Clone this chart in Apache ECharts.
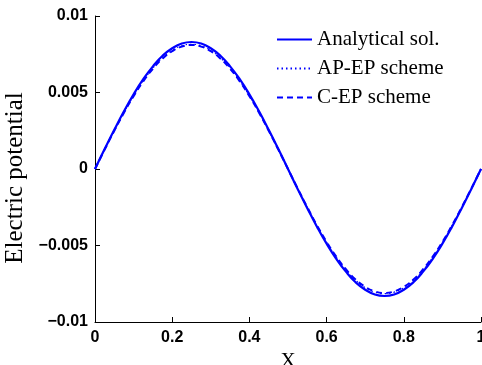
<!DOCTYPE html>
<html><head><meta charset="utf-8">
<script src="https://cdn.jsdelivr.net/npm/echarts@6/dist/echarts.min.js"></script>
<style>html,body{margin:0;padding:0;background:#fff}#c{width:482px;height:365px}</style>
</head><body><div id="c"></div>
<script>
const xValues = [0,0.025,0.05,0.075,0.1,0.125,0.15,0.175,0.2,0.225,0.25,0.275,0.3,0.325,0.35,0.375,0.4,0.425,0.45,0.475,0.5,0.525,0.55,0.575,0.6,0.625,0.65,0.675,0.7,0.725,0.75,0.775,0.8,0.825,0.85,0.875,0.9,0.925,0.95,0.975,1];
const analytical = [0,0.0013,0.00256,0.00377,0.00488,0.00587,0.00671,0.0074,0.00789,0.0082,0.0083,0.0082,0.00789,0.0074,0.00671,0.00587,0.00488,0.00377,0.00256,0.0013,0,-0.0013,-0.00256,-0.00377,-0.00488,-0.00587,-0.00671,-0.0074,-0.00789,-0.0082,-0.0083,-0.0082,-0.00789,-0.0074,-0.00671,-0.00587,-0.00488,-0.00377,-0.00256,-0.0013,0];
const apEp = [0,0.00127,0.00251,0.0037,0.00479,0.00576,0.00659,0.00726,0.00775,0.00805,0.00815,0.00805,0.00775,0.00726,0.00659,0.00576,0.00479,0.0037,0.00251,0.00127,0,-0.00127,-0.00251,-0.0037,-0.00479,-0.00576,-0.00659,-0.00726,-0.00775,-0.00805,-0.00815,-0.00805,-0.00775,-0.00726,-0.00659,-0.00576,-0.00479,-0.0037,-0.00251,-0.00127,0];
const cEp = [0,0.00127,0.0025,0.00368,0.00476,0.00573,0.00655,0.00722,0.0077,0.008,0.0081,0.008,0.0077,0.00722,0.00655,0.00573,0.00476,0.00368,0.0025,0.00127,0,-0.00127,-0.0025,-0.00368,-0.00476,-0.00573,-0.00655,-0.00722,-0.0077,-0.008,-0.0081,-0.008,-0.0077,-0.00722,-0.00655,-0.00573,-0.00476,-0.00368,-0.0025,-0.00127,0];
const seriesNames = ['Analytical sol.','AP-EP scheme','C-EP scheme'];

const pair = arr => xValues.map((x,i)=>[x,arr[i]]);
const fmt = v => String(v).replace('-', '\u2212');
const tickFont = {fontFamily:'Liberation Sans', fontWeight:'bold', fontSize:16, color:'#000'};
const chart = echarts.init(document.getElementById('c'));
chart.setOption({
  animation:false,
  grid:{left:95, right:1, top:16, bottom:43, containLabel:false, outerBoundsMode:'none'},
  legend:{
    orient:'vertical', left:276, top:29, padding:0, itemWidth:35, itemHeight:14, itemGap:8,
    itemStyle:{opacity:0},
    textStyle:{fontFamily:'Liberation Serif', fontSize:21, color:'#000'},
    data:seriesNames
  },
  xAxis:{
    type:'value', min:0, max:1, interval:0.2,
    name:'X', nameLocation:'middle', nameGap:18,
    nameTextStyle:{fontFamily:'Liberation Serif', fontSize:21, color:'#000'},
    axisLine:{onZero:false, lineStyle:{color:'#000', width:1}},
    axisTick:{inside:true, length:5, lineStyle:{color:'#000'}},
    axisLabel:Object.assign({margin:8, formatter:fmt}, tickFont),
    splitLine:{show:false}
  },
  yAxis:{
    type:'value', min:-0.01, max:0.01, interval:0.005,
    name:'Electric potential', nameLocation:'middle', nameGap:52,
    nameTextStyle:{fontFamily:'Liberation Serif', fontSize:25, color:'#000', padding:[0,18,0,0]},
    axisLine:{show:true, onZero:false, lineStyle:{color:'#000', width:1}},
    axisTick:{show:true, inside:true, length:5, lineStyle:{color:'#000'}},
    axisLabel:Object.assign({margin:7, formatter:fmt}, tickFont),
    splitLine:{show:false}
  },
  series:[
    {name:seriesNames[0], type:'line', smooth:true, symbol:'none', data:pair(analytical),
     lineStyle:{color:'#0000ff', width:2.2, type:'solid'}, itemStyle:{color:'#0000ff'}, z:3},
    {name:seriesNames[1], type:'line', smooth:true, symbol:'none', data:pair(apEp),
     lineStyle:{color:'#0000ff', width:1.2, type:[1.5,3]}, itemStyle:{color:'#0000ff'}, z:2},
    {name:seriesNames[2], type:'line', smooth:true, symbol:'none', data:pair(cEp),
     lineStyle:{color:'#0000ff', width:2, type:[6,4]}, itemStyle:{color:'#0000ff'}, z:1}
  ]
});
</script></body></html>
